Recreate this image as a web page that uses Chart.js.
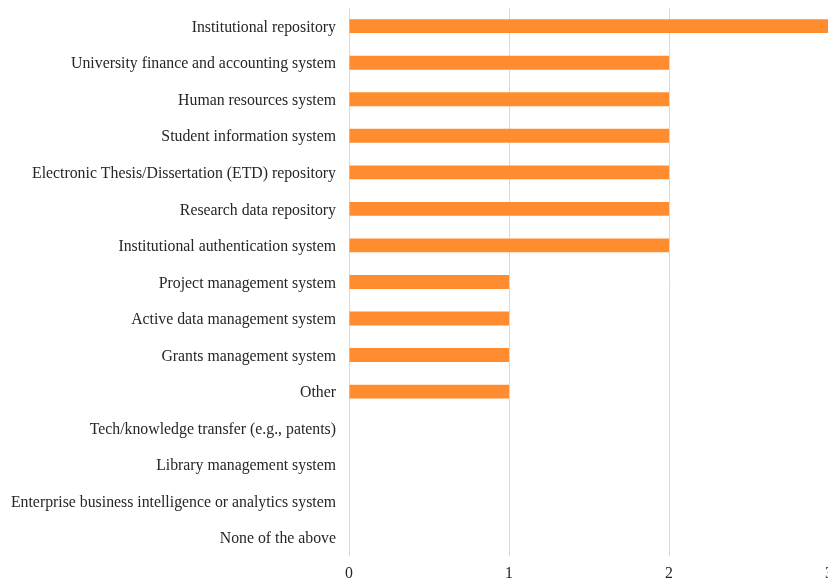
<!DOCTYPE html>
<html>
<head>
<meta charset="utf-8">
<script src="https://cdn.jsdelivr.net/npm/chart.js@4"></script>
<style>
  html, body { margin: 0; padding: 0; overflow: hidden; background: #fff; }
  #wrap { width: 828px; height: 584px; overflow: hidden; }
</style>
</head>
<body>
<div id="wrap"><canvas id="chart" width="841" height="584"></canvas></div>
<script>
const categories = [
  "Institutional repository",
  "University finance and accounting system",
  "Human resources system",
  "Student information system",
  "Electronic Thesis/Dissertation (ETD) repository",
  "Research data repository",
  "Institutional authentication system",
  "Project management system",
  "Active data management system",
  "Grants management system",
  "Other",
  "Tech/knowledge transfer (e.g., patents)",
  "Library management system",
  "Enterprise business intelligence or analytics system",
  "None of the above"
];
const counts = [3, 2, 2, 2, 2, 2, 2, 1, 1, 1, 1, 0, 0, 0, 0];
const xTicks = [0, 1, 2, 3];

const ctx = document.getElementById("chart").getContext("2d");
new Chart(ctx, {
  type: "bar",
  data: {
    labels: categories,
    datasets: [{
      data: counts,
      backgroundColor: "#ff8c2e",
      borderWidth: 0,
      categoryPercentage: 1,
      barPercentage: 0.38
    }]
  },
  options: {
    indexAxis: "y",
    responsive: false,
    animation: false,
    layout: { padding: 0 },
    plugins: { legend: { display: false }, tooltip: { enabled: false } },
    scales: {
      x: {
        min: 0,
        max: 3,
        afterBuildTicks: (scale) => { scale.ticks = xTicks.map(v => ({ value: v })); },
        afterFit: (scale) => { scale.height = 28; },
        grid: { color: "#d9d9d9", drawTicks: false },
        border: { display: false },
        ticks: { padding: 8, color: "#262626", font: { family: "Liberation Serif", size: 15.8 } }
      },
      y: {
        afterFit: (scale) => { scale.width = 349; },
        // tick marks are hidden with the grid; their length only spaces the labels
        grid: { display: false, drawTicks: true, tickLength: 13 },
        border: { display: false },
        ticks: { padding: 0, labelOffset: 1.5, color: "#262626", font: { family: "Liberation Serif", size: 15.8, lineHeight: 1 } }
      }
    }
  }
});
</script>
</body>
</html>
